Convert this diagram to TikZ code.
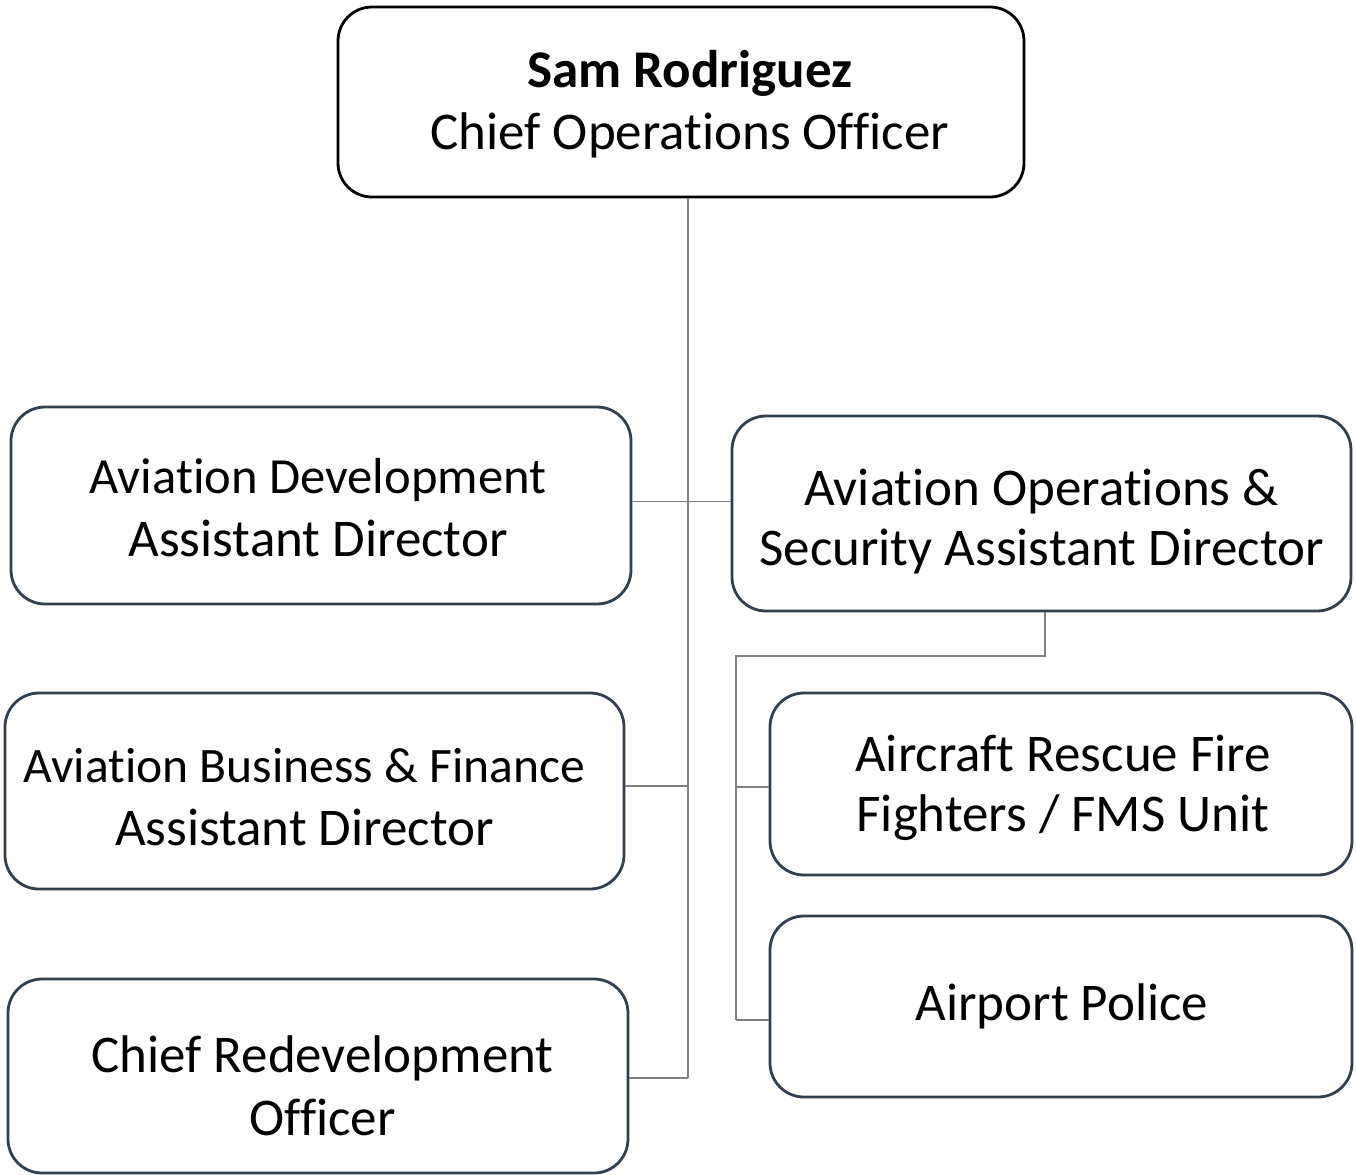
\documentclass[tikz,border=0pt]{standalone}
\usepackage{fontspec}
\setmainfont{Carlito}[Ligatures=NoCommon]
\definecolor{boxline}{HTML}{323F4F}
\definecolor{conn}{HTML}{808080}
\begin{document}
\begin{tikzpicture}[x=0.5pt,y=-0.5pt,
  box/.style={draw=boxline,line width=1.4pt,rounded corners=17pt,fill=white,inner sep=0pt},
  lbl/.style={inner sep=0pt,align=center,font=\fontsize{26.5}{31.5}\selectfont},
  conline/.style={draw=conn,line width=0.9pt}]
\useasboundingbox (0,0) rectangle (1356,1174);
% boxes
\node[box,draw=black,minimum width=343pt,minimum height=95pt] (top) at (681,102) {};
\node[box,minimum width=310pt,minimum height=98.5pt] (ad) at (321,505.5) {};
\node[box,minimum width=309.5pt,minimum height=97.5pt] (aos) at (1041.5,513.5) {};
\node[box,minimum width=309.5pt,minimum height=98pt] (abf) at (314.5,791) {};
\node[box,minimum width=310pt,minimum height=97pt] (cro) at (318,1076) {};
\node[box,minimum width=291pt,minimum height=91pt] (arff) at (1061,784) {};
\node[box,minimum width=291pt,minimum height=90.5pt] (ap) at (1061,1006.5) {};
% texts
\node[lbl] (topt) at (690,104) {\textbf{Sam Rodriguez}\\[-0.5pt]Chief Operations Officer};
\node[lbl] (adt) at (318,507.5) {{\fontsize{25.3}{31.5}\selectfont Aviation Development}\\Assistant Director};
\node[lbl,font=\fontsize{26.5}{30}\selectfont] (aost) at (1041.5,521.5) {Aviation Operations \&\\Security Assistant Director};
\node[lbl] (abft) at (304.5,797) {{\fontsize{24.8}{31.5}\selectfont Aviation Business \& Finance}\\Assistant Director};
\node[lbl] (crot) at (322.5,1085.5) {Chief Redevelopment\\Officer};
\node[lbl,font=\fontsize{26.5}{30}\selectfont] (arfft) at (1063,788) {Aircraft Rescue Fire\\Fighters / FMS Unit};
\node[lbl] (apt) at (1062,1006.5) {Airport Police};
% connectors
\coordinate (trunkend) at (688,1078);
\coordinate (aosj) at (736,656);
\coordinate (aosend) at (736,1020);
\draw[conline] (top.south -| trunkend) -- (trunkend);
\draw[conline] (ad.east) ++(0,-4) coordinate (adj) -- (aos.west |- adj);
\draw[conline] (abf.east) ++(0,-5) coordinate (abfj) -- (abfj -| trunkend);
\draw[conline] (cro.east |- trunkend) -- (trunkend);
\draw[conline] (aos.south) ++(3.5,0) coordinate (aosb) -- (aosb |- aosj) -- (aosj) -- (aosend);
\draw[conline] (arff.west) ++(0,3) coordinate (arffj) -- (arffj -| aosj);
\draw[conline] (ap.west |- aosend) -- (aosend);
\end{tikzpicture}
\end{document}
